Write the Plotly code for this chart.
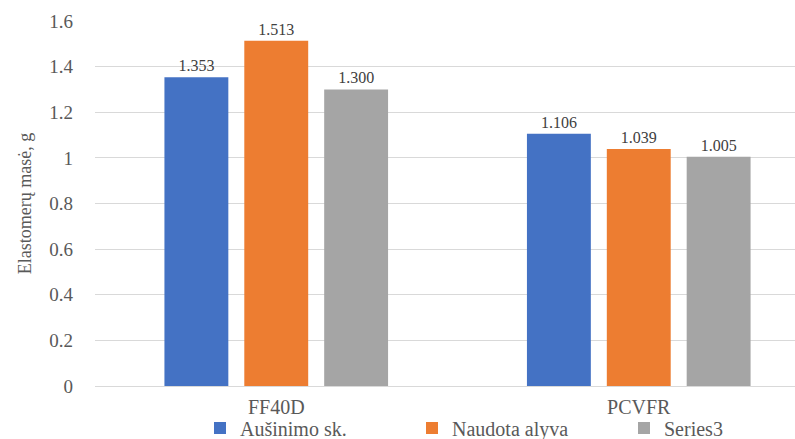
import plotly.graph_objects as go

categories = ["FF40D", "PCVFR"]
series_names = ["Aušinimo sk.", "Naudota alyva", "Series3"]
ausinimo = [1.353, 1.106]
naudota = [1.513, 1.039]
series3 = [1.300, 1.005]
colors = ["#4472C4", "#ED7D31", "#A5A5A5"]

SERIF = "Liberation Serif"

fig = go.Figure()
for name, vals, col in zip(series_names, [ausinimo, naudota, series3], colors):
    fig.add_trace(go.Bar(
        x=categories, y=vals, name=name,
        marker=dict(color=col, line=dict(width=0)),
        texttemplate="%{y:.3f}", textposition="outside",
        textfont=dict(family=SERIF, size=16, color="#404040"),
        constraintext="none", cliponaxis=False,
    ))

fig.update_layout(
    width=795, height=439,
    margin=dict(l=95, r=0, t=21, b=53, autoexpand=False),
    paper_bgcolor="white", plot_bgcolor="white",
    barmode="group", bargap=0.339, bargroupgap=0.2,
    font=dict(family=SERIF, color="#595959"),
    xaxis=dict(
        range=[-0.5, 1.431], showgrid=False, showline=False, zeroline=False,
        ticks="", tickfont=dict(family=SERIF, size=20, color="#595959"), ticklabelstandoff=7,
    ),
    yaxis=dict(
        range=[0, 1.6], dtick=0.2, showgrid=True, gridcolor="#D9D9D9", gridwidth=1,
        zeroline=True, zerolinecolor="#D9D9D9", zerolinewidth=1, showline=False,
        ticks="", tickfont=dict(family=SERIF, size=19, color="#595959"), ticklabelstandoff=21,
        title=dict(text="Elastomerų masė, g", font=dict(family=SERIF, size=18, color="#595959"), standoff=12),
    ),
    legend=dict(
        orientation="h", x=0.15, xanchor="left", y=-0.115, yanchor="middle",
        font=dict(family=SERIF, size=20, color="#595959"), bgcolor="rgba(0,0,0,0)",
        entrywidth=167, entrywidthmode="pixels",
    ),
    showlegend=True,
)

fig.write_html("out.html")
